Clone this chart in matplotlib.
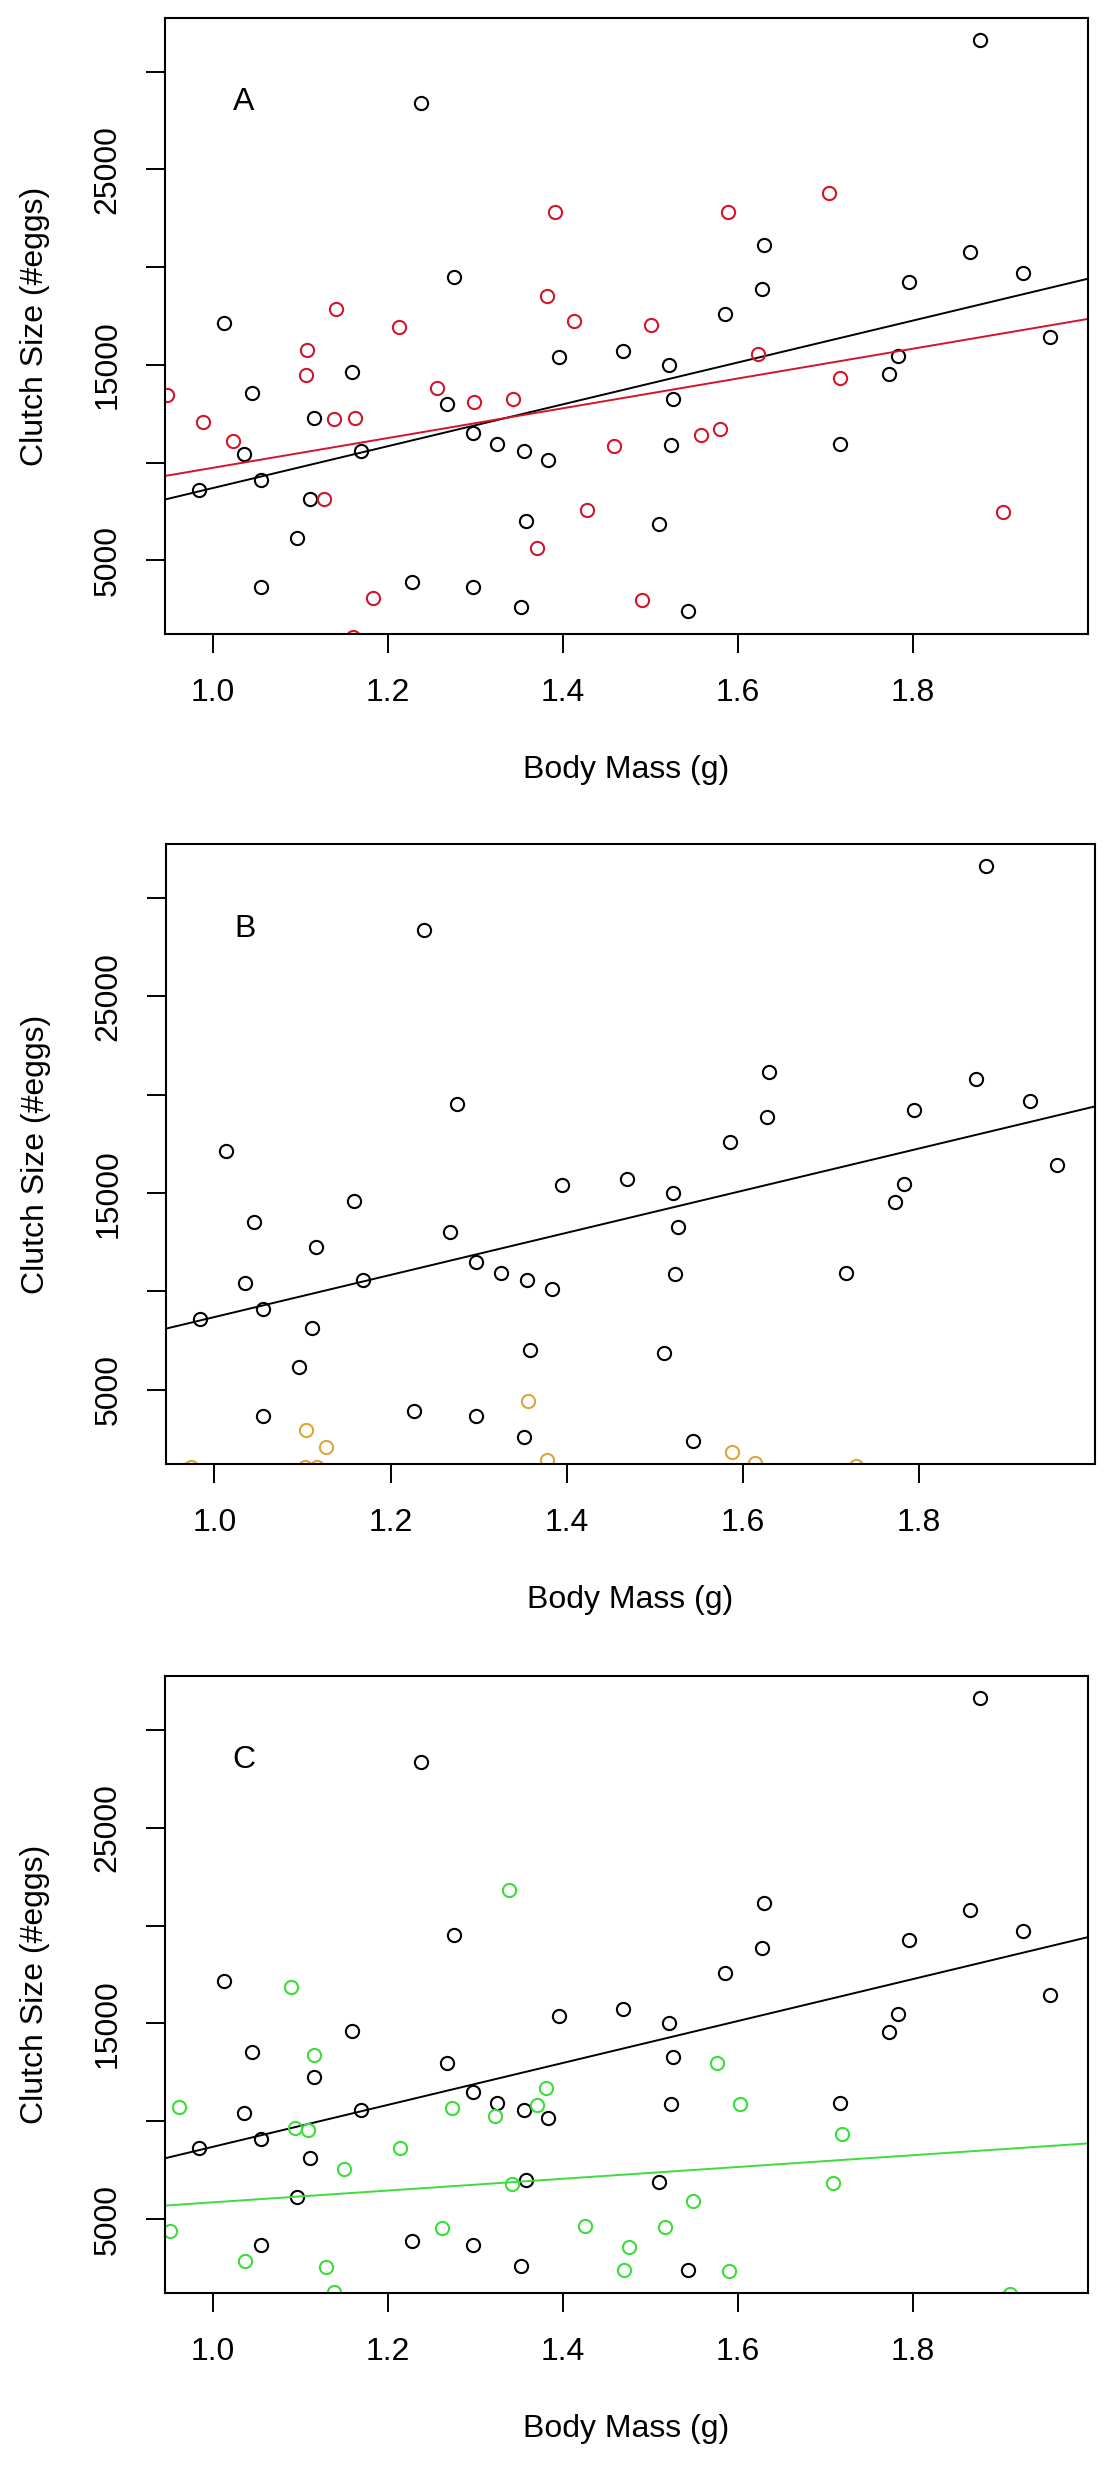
import numpy as np
import matplotlib.pyplot as plt

plt.rcParams['font.family'] = ['Liberation Sans', 'DejaVu Sans']

# reference species (black), the same in every panel
mass_black = [0.984, 1.013, 1.035, 1.045, 1.055, 1.055, 1.096, 1.111, 1.115, 1.159,
              1.169, 1.227, 1.238, 1.267, 1.275, 1.297, 1.297, 1.325, 1.355, 1.352,
              1.358, 1.383, 1.395, 1.469, 1.521, 1.526, 1.523, 1.510, 1.543, 1.585,
              1.627, 1.630, 1.717, 1.773, 1.783, 1.795, 1.865, 1.876, 1.926, 1.957]
clutch_black = [8620, 17160, 10430, 13540, 9120, 3660, 6150, 8130, 12270, 14620,
                10600, 3900, 28380, 13000, 19510, 11520, 3660, 10930, 10600, 2620,
                7020, 10150, 15390, 15730, 15000, 13280, 10900, 6880, 2410, 17580,
                18880, 21140, 10950, 14550, 15470, 19250, 20780, 31630, 19700, 16430]

# panel A overlay (red)
mass_red = [0.947, 0.989, 1.023, 1.107, 1.106, 1.141, 1.138, 1.162, 1.127, 1.213,
            1.183, 1.160, 1.256, 1.298, 1.343, 1.382, 1.391, 1.370, 1.412, 1.500,
            1.427, 1.458, 1.490, 1.558, 1.579, 1.589, 1.623, 1.704, 1.717, 1.903]
clutch_red = [13440, 12100, 11090, 15770, 14500, 17870, 12240, 12270, 8130, 16950,
              3070, 1100, 13820, 13110, 13230, 18550, 22810, 5640, 17250, 17020,
              7560, 10830, 2980, 11420, 11700, 22830, 15580, 23820, 14340, 7470]

# panel B overlay (orange), mostly below the plotted range
mass_orange = [0.973, 1.104, 1.127, 1.103, 1.117, 1.356, 1.378, 1.588, 1.614, 1.729]
clutch_orange = [1100, 2940, 2100, 1100, 1100, 4440, 1420, 1860, 1300, 1150]

# panel C overlay (green)
mass_green = [0.951, 0.961, 1.036, 1.089, 1.094, 1.109, 1.115, 1.129, 1.138, 1.150,
              1.214, 1.262, 1.273, 1.322, 1.338, 1.342, 1.370, 1.381, 1.425, 1.470,
              1.475, 1.516, 1.548, 1.576, 1.590, 1.602, 1.709, 1.719, 1.911]
clutch_green = [4410, 10750, 2840, 16880, 9640, 9540, 13370, 2570, 1270, 7540,
                8650, 4570, 10670, 10290, 21820, 6780, 10830, 11700, 4650, 2380,
                3570, 4600, 5950, 12990, 2350, 10910, 6860, 9350, 1170]

# regression lines (intercept, slope)
fit_black = (-2008, 10709)
fit_red = (2120, 7616)
fit_green = (2854, 3009)

x_ticks = [1.0, 1.2, 1.4, 1.6, 1.8]
x_tick_labels = ['1.0', '1.2', '1.4', '1.6', '1.8']
y_ticks = [5000, 10000, 15000, 20000, 25000, 30000]
y_tick_labels = ['5000', '', '15000', '', '25000', '']

W, H = 1119, 2466
fig = plt.figure(figsize=(W / 100, H / 100), dpi=100)

FS = 23
panels = [
    # letter, (left, top, right, bottom) in px, overlay x, overlay y, colour, fit
    ('A', (165, 18, 1088, 634), mass_red, clutch_red, '#d4142a', fit_red),
    ('B', (166, 844, 1095, 1464), mass_orange, clutch_orange, '#dca63a', None),
    ('C', (165, 1676, 1088, 2293), mass_green, clutch_green, '#3ddc3d', fit_green),
]

for letter, (l, t, r, b), mx, cy, col, fit in panels:
    ax = fig.add_axes([l / W, 1 - b / H, (r - l) / W, (b - t) / H])
    w_px, h_px = r - l, b - t

    ax.plot(mass_black, clutch_black, 'o', mfc='none', mec='black', ms=9.5, mew=1.5)
    ax.axline((0, fit_black[0]), slope=fit_black[1], color='black', lw=1.4)
    ax.plot(mx, cy, 'o', mfc='none', mec=col, ms=9.5, mew=1.5)
    if fit is not None:
        ax.axline((0, fit[0]), slope=fit[1], color=col, lw=1.4)

    ax.set_xlim(0.945, 2.0)
    ax.set_ylim(1230, 32750)

    ax.set_xticks(x_ticks)
    ax.set_xticklabels(x_tick_labels, fontsize=FS)
    ax.set_yticks(y_ticks)
    ax.set_yticklabels(y_tick_labels, fontsize=FS, rotation=90, va='center')
    ax.tick_params(direction='out', length=13.7, width=1.4)
    ax.tick_params(axis='x', pad=18)
    ax.tick_params(axis='y', pad=17)
    for s in ax.spines.values():
        s.set_linewidth(1.5)

    ax.set_xlabel('Body Mass (g)', fontsize=FS)
    ax.xaxis.set_label_coords(0.5, -136 / h_px)
    ax.xaxis.label.set_va('center')
    ax.set_ylabel('Clutch Size (#eggs)', fontsize=FS)
    ax.yaxis.set_label_coords(-130 / w_px, 0.5)
    ax.yaxis.label.set_va('center')

    ax.text(1.035, 28450, letter, ha='center', va='center', fontsize=FS)

fig.savefig('out.png', dpi=100)
